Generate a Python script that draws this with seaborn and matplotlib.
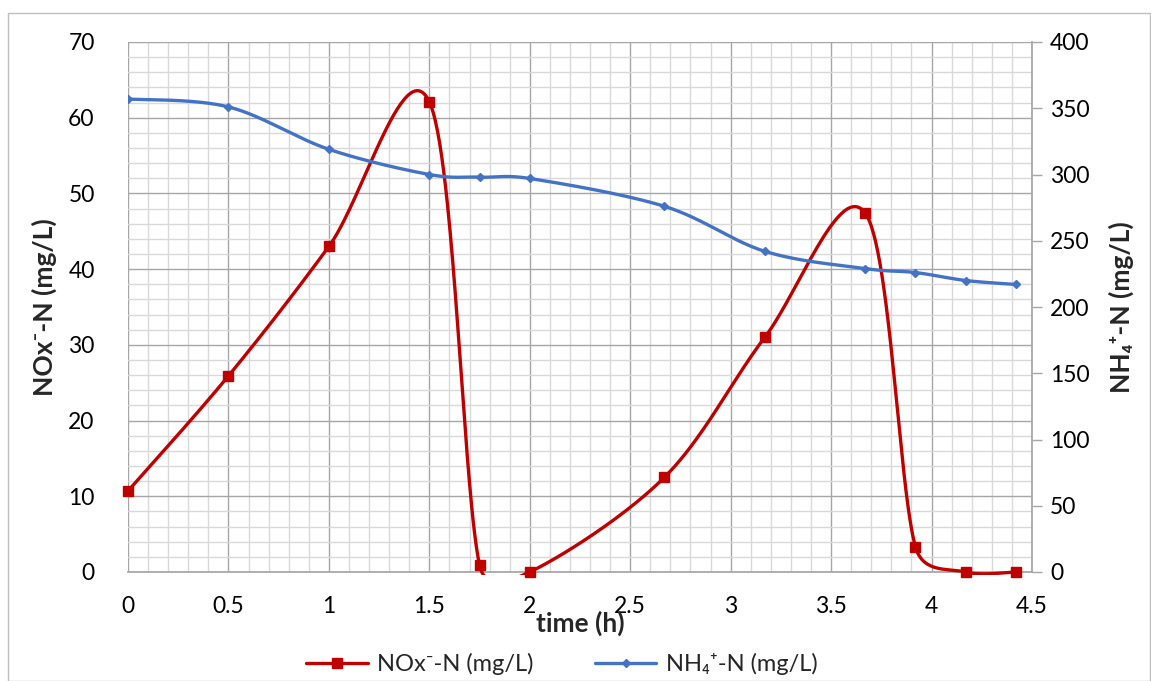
import numpy as np
import pandas as pd
import matplotlib
matplotlib.use('Agg')
import matplotlib.pyplot as plt
from matplotlib.lines import Line2D
from matplotlib.patches import Rectangle
from matplotlib.ticker import MultipleLocator
import seaborn as sns

# data
time_h = [0, 0.5, 1.0, 1.5, 1.75, 2.0, 2.67, 3.17, 3.67, 3.92, 4.17, 4.42]
nox_n = [10.7, 25.9, 43.0, 62.1, 0.9, 0.0, 12.5, 31.0, 47.4, 3.3, 0.0, 0.0]
nh4_n = [357, 351, 319, 300, 298, 297, 276, 242, 229, 226, 220, 217]

RED = '#c00000'
BLUE = '#4472c4'
FONT = ['Lato', 'DejaVu Sans']


def smooth_curve(ax, x, y, n=60):
    """Excel-like smoothed line, built in screen space"""
    pts = ax.transData.transform(np.column_stack([x, y]).astype(float))
    out = []
    for i in range(len(pts) - 1):
        p0 = pts[i - 1] if i > 0 else pts[i]
        p1 = pts[i]
        p2 = pts[i + 1]
        p3 = pts[i + 2] if i + 2 < len(pts) else pts[i + 1]
        half = np.hypot(*(p2 - p1)) / 2
        d1 = (p2 - p0) / 6
        d2 = (p3 - p1) / 6
        # Excel caps the control handle at half the segment length
        if np.hypot(*d1) > half:
            d1 = d1 * half / np.hypot(*d1)
        if np.hypot(*d2) > half:
            d2 = d2 * half / np.hypot(*d2)
        c1 = p1 + d1
        c2 = p2 - d2
        t = np.linspace(0, 1, n)[:, None]
        seg = ((1 - t) ** 3) * p1 + 3 * ((1 - t) ** 2) * t * c1 + 3 * (1 - t) * t ** 2 * c2 + t ** 3 * p2
        out.append(seg if i == 0 else seg[1:])
    out = ax.transData.inverted().transform(np.vstack(out))
    return pd.DataFrame({'x': out[:, 0], 'y': out[:, 1]})


sns.set_theme(style='white')
plt.rcParams['font.family'] = FONT

fig = plt.figure(figsize=(11.51, 6.81), dpi=100)
ax = fig.add_axes([128 / 1151, 1 - 572 / 681, (1032 - 128) / 1151, (572 - 42) / 681])
ax2 = ax.twinx()

# outer chart border
fig.patches.append(Rectangle((8 / 1151, 0), 1142 / 1151, 1 - 13 / 681, transform=fig.transFigure,
                             fill=False, edgecolor='#bfbfbf', linewidth=1.0))

ax.set_xlim(0, 4.5)
ax.set_ylim(0, 70)
ax2.set_ylim(0, 400)

nox_curve = smooth_curve(ax, time_h, nox_n)
nh4_curve = smooth_curve(ax2, time_h, nh4_n)

sns.lineplot(data=nox_curve, x='x', y='y', ax=ax, color=RED, linewidth=2.4,
             sort=False, estimator=None, zorder=3)
# let the red line sit on the zero line without being cut in half
clip = Rectangle((0, -0.006), 1, 1.006, transform=ax.transAxes, visible=False)
ax.add_patch(clip)
ax.lines[-1].set_clip_path(clip)
ax.plot(time_h, nox_n, linestyle='none', marker='s', markersize=7, color=RED, zorder=4, clip_on=False)

sns.lineplot(data=nh4_curve, x='x', y='y', ax=ax2, color=BLUE, linewidth=2.4,
             sort=False, estimator=None, zorder=3)
ax2.plot(time_h, nh4_n, linestyle='none', marker='D', markersize=4.5, color=BLUE, zorder=4)

ax.set_xlim(0, 4.5)
ax.set_ylim(0, 70)
ax2.set_ylim(0, 400)

ax.xaxis.set_major_locator(MultipleLocator(0.5))
ax.xaxis.set_minor_locator(MultipleLocator(0.1))
ax.yaxis.set_major_locator(MultipleLocator(10))
ax.yaxis.set_minor_locator(MultipleLocator(2))
ax2.yaxis.set_major_locator(MultipleLocator(50))

ax.grid(which='major', color='#a6a6a6', linewidth=1.0)
ax.grid(which='minor', color='#d9d9d9', linewidth=1.0)
ax.set_axisbelow(True)
ax2.grid(False)

ax.set_xticklabels([f'{v:g}' for v in ax.get_xticks()])
ax.tick_params(axis='both', which='both', length=0, labelsize=16.5, colors='black')
ax.tick_params(axis='x', pad=17)
ax.tick_params(axis='y', pad=24)
ax2.tick_params(axis='y', which='major', length=7, width=1, color='#a6a6a6', labelsize=16.5,
                labelcolor='black', pad=6)

for sp in ['top', 'left', 'right']:
    ax.spines[sp].set_visible(False)
    ax2.spines[sp].set_visible(False)
ax2.spines['right'].set_visible(True)
ax2.spines['right'].set_color('#a6a6a6')
ax.spines['bottom'].set_color('#a6a6a6')
ax2.spines['bottom'].set_visible(False)

ax.set_xlabel('time (h)', fontsize=19, fontweight='bold', labelpad=-4)
ax.set_ylabel('NOx\u207b-N (mg/L)', fontsize=19, fontweight='bold', labelpad=8)
ax2.set_ylabel('NH\u2084\u207a-N (mg/L)', fontsize=19, fontweight='bold', rotation=90, labelpad=14)

handles = [
    Line2D([], [], color=RED, linewidth=2.4, marker='s', markersize=7),
    Line2D([], [], color=BLUE, linewidth=2.4, marker='D', markersize=4.5),
]
fig.legend(handles, ['NOx\u207b-N (mg/L)', 'NH\u2084\u207a-N (mg/L)'], loc='center',
           bbox_to_anchor=(562 / 1151, 1 - 664 / 681), ncol=2, frameon=False, fontsize=17,
           handlelength=2.6, columnspacing=2.6, handletextpad=0.4)

fig.savefig('out.png', dpi=100)
